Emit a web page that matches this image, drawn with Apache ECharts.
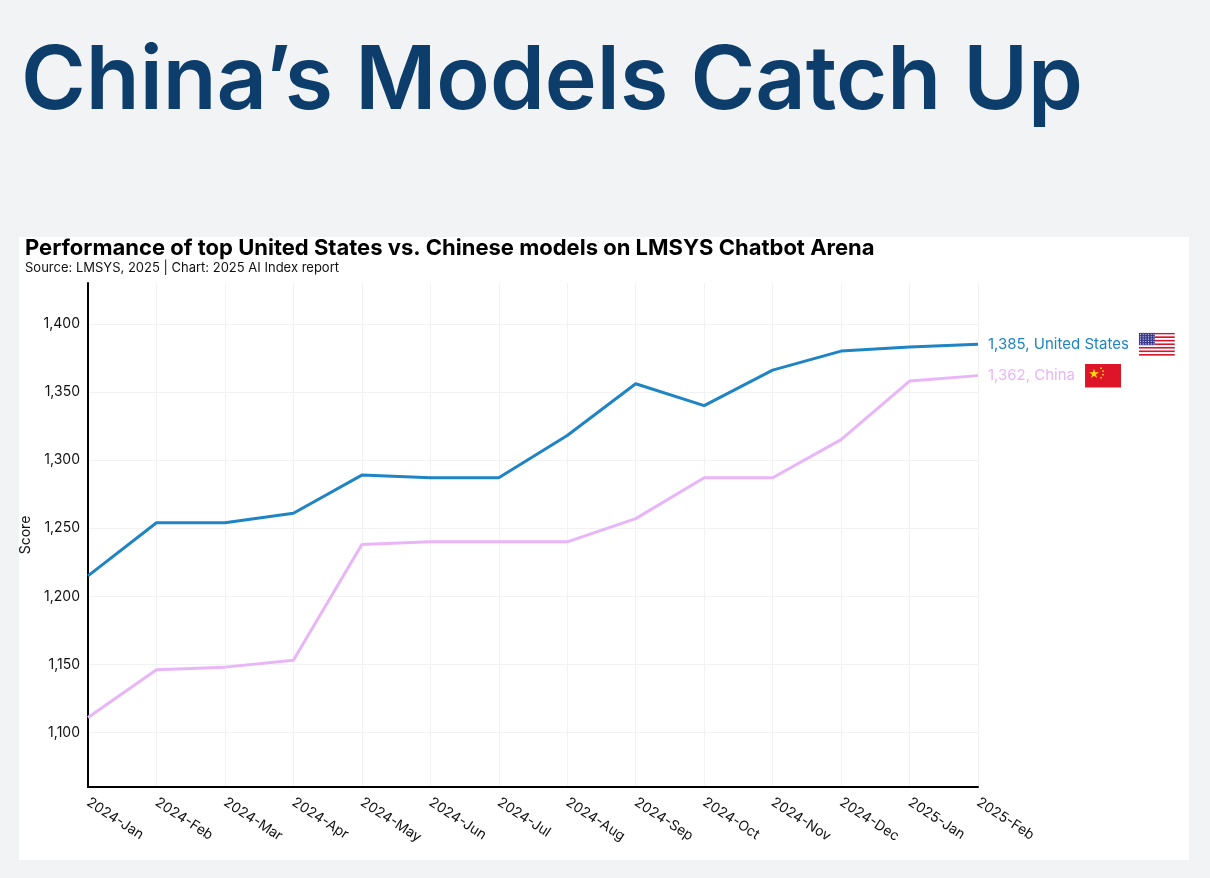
<!DOCTYPE html>
<html>
<head>
<meta charset="utf-8">
<script src="https://cdn.jsdelivr.net/npm/echarts@6/dist/echarts.min.js"></script>
<style>
  html, body { margin: 0; padding: 0; background: #f1f3f5; }
  #chart { width: 1210px; height: 878px; }
</style>
</head>
<body>
<div id="chart"></div>
<script>
const months = [
  "2024-Jan", "2024-Feb", "2024-Mar", "2024-Apr", "2024-May", "2024-Jun", "2024-Jul",
  "2024-Aug", "2024-Sep", "2024-Oct", "2024-Nov", "2024-Dec", "2025-Jan", "2025-Feb"
];
const usScores = [1215, 1254, 1254, 1261, 1289, 1287, 1287, 1318, 1356, 1340, 1366, 1380, 1383, 1385];
const chinaScores = [1111, 1146, 1148, 1153, 1238, 1240, 1240, 1240, 1257, 1287, 1287, 1315, 1358, 1362];
const yTicks = [1100, 1150, 1200, 1250, 1300, 1350, 1400];

const usBlue = "#1f84c3";
const chinaPink = "#e9b5f9";
const font = "Inter";

// small flag pictures as inline svg
function svgUri(svg) {
  return "data:image/svg+xml;charset=utf-8," + encodeURIComponent(svg);
}
let stripes = "";
for (let i = 0; i < 13; i++) {
  stripes += '<rect x="0" y="' + (i * 23 / 13) + '" width="36" height="' + (23 / 13 + 0.05) + '" fill="' + (i % 2 ? "#ffffff" : "#d5152e") + '"/>';
}
let stars = "";
for (let r = 0; r < 5; r++) {
  for (let c = 0; c < 6; c++) {
    stars += '<circle cx="' + (1.6 + c * 2.7) + '" cy="' + (1.5 + r * 2.4) + '" r="0.55" fill="#fff"/>';
  }
}
const usFlag = svgUri('<svg xmlns="http://www.w3.org/2000/svg" width="36" height="23" viewBox="0 0 36 23">' +
  stripes + '<rect x="0" y="0" width="16" height="12.4" fill="#3c3b8e"/>' + stars + '</svg>');
const cnFlag = svgUri('<svg xmlns="http://www.w3.org/2000/svg" width="36" height="24" viewBox="0 0 36 24">' +
  '<rect width="36" height="24" fill="#de1428"/>' +
  '<polygon points="9,5 10.2,8.6 14,8.6 10.9,10.8 12.1,14.4 9,12.2 5.9,14.4 7.1,10.8 4,8.6 7.8,8.6" fill="#ffde00"/>' +
  '<circle cx="16" cy="4.5" r="0.9" fill="#ffde00"/><circle cx="18" cy="7.5" r="0.9" fill="#ffde00"/>' +
  '<circle cx="18" cy="11" r="0.9" fill="#ffde00"/><circle cx="16" cy="14" r="0.9" fill="#ffde00"/></svg>');

const chart = echarts.init(document.getElementById("chart"));

const option = {
  backgroundColor: "#f1f3f5",
  animation: false,
  textStyle: { fontFamily: font },
  graphic: [
    {
      type: "rect",
      shape: { x: 19, y: 237, width: 1170, height: 623 },
      style: { fill: "#ffffff" },
      z: -10
    }
  ],
  title: [
    {
      text: "China’s Models Catch Up",
      left: 16,
      top: 34,
      textStyle: { color: "#0c3d6b", fontSize: 88, fontWeight: 600, fontFamily: font }
    },
    {
      text: "Performance of top United States vs. Chinese models on LMSYS Chatbot Arena",
      subtext: "Source: LMSYS, 2025 | Chart: 2025 AI Index report",
      left: 20,
      top: 232,
      itemGap: 3,
      textStyle: { color: "#000", fontSize: 22, fontWeight: "bold", fontFamily: font },
      subtextStyle: { color: "#111", fontSize: 13, fontFamily: font }
    }
  ],
  grid: { left: 88, right: 232, top: 283, bottom: 91, containLabel: false },
  xAxis: {
    type: "category",
    data: months,
    boundaryGap: false,
    axisLine: { lineStyle: { color: "#000", width: 2 } },
    axisTick: { show: false },
    axisLabel: { rotate: -33, color: "#111", fontSize: 14, margin: 14, interval: 0 },
    splitLine: { show: true, lineStyle: { color: "#f2f2f2", width: 1 } }
  },
  yAxis: {
    type: "value",
    min: 1060,
    max: 1430,
    name: "Score",
    nameLocation: "middle",
    nameGap: 52,
    nameTextStyle: { color: "#111", fontSize: 14 },
    axisLine: { show: true, lineStyle: { color: "#000", width: 2 } },
    axisTick: { show: false, customValues: yTicks },
    axisLabel: {
      customValues: yTicks,
      color: "#111",
      fontSize: 14,
      margin: 8,
      formatter: v => v.toLocaleString("en-US")
    },
    splitLine: { show: true, lineStyle: { color: "#f2f2f2", width: 1 } }
  },
  series: [
    {
      name: "United States",
      type: "line",
      data: usScores,
      symbol: "none",
      lineStyle: { color: usBlue, width: 3 },
      endLabel: {
        show: true,
        distance: 10,
        formatter: p => "{t|" + p.value.toLocaleString("en-US") + ", United States}{s|}{f|}",
        rich: {
          t: { color: usBlue, fontSize: 15, fontFamily: font },
          s: { width: 10 },
          f: { width: 36, height: 23, backgroundColor: { image: usFlag } }
        }
      }
    },
    {
      name: "China",
      type: "line",
      data: chinaScores,
      symbol: "none",
      lineStyle: { color: chinaPink, width: 3 },
      endLabel: {
        show: true,
        distance: 10,
        formatter: p => "{t|" + p.value.toLocaleString("en-US") + ", China}{s|}{f|}",
        rich: {
          t: { color: chinaPink, fontSize: 15, fontFamily: font },
          s: { width: 10 },
          f: { width: 36, height: 24, backgroundColor: { image: cnFlag } }
        }
      }
    }
  ]
};

chart.setOption(option);

window.addEventListener("resize", function () {
  chart.resize();
});
</script>
</body>
</html>
